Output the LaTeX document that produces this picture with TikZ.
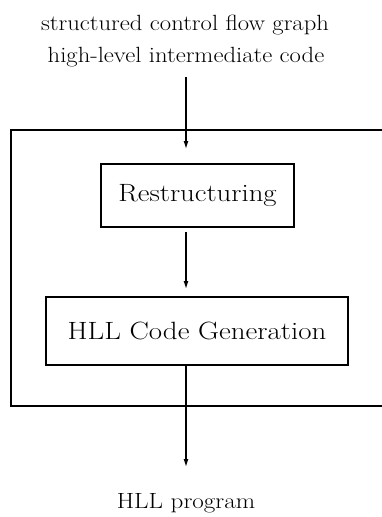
\documentclass[tikz,border=0pt]{standalone}
\usepackage{fontspec}
\usepackage{graphicx}
\usetikzlibrary{arrows.meta}
\tikzset{
  stagebox/.style={draw, line width=1.8pt, inner sep=0pt, minimum height=#1},
  flow/.style={line width=1.2pt, -{Latex[length=8pt,width=5pt]}},
  frame/.style={line width=2pt},
  caption/.style={anchor=base, inner sep=0pt}
}
\begin{document}
\begin{tikzpicture}[x=1pt, y=-1pt]
  \useasboundingbox (0,0) rectangle (382,517);
  % input description
  \node[caption] (in1) at (185,30) {\fontsize{22}{26}\selectfont\scalebox{1.12}[1]{structured control flow graph}};
  \node[caption] (in2) at (186,62) {\fontsize{22}{26}\selectfont\scalebox{1.12}[1]{high-level intermediate code}};
  % surrounding frame, open to the right
  \draw[frame] (384,130) -- (11,130) -- (11,406) -- (384,406);
  % stages
  \node[stagebox=63pt, minimum width=193pt] (restr) at (197.5,195.5)
    {\fontsize{25}{30}\selectfont\scalebox{1.15}[1]{Restructuring}};
  \node[stagebox=68pt, minimum width=302pt] (gen) at (197,331)
    {\fontsize{25}{30}\selectfont\scalebox{1.155}[1]{HLL Code Generation}};
  % output
  \node[caption] (out) at (186,508) {\fontsize{22}{26}\selectfont\scalebox{1.14}[1]{HLL program}};
  % connectors
  \coordinate (a1s) at (186,77);
  \coordinate (a1e) at (186,149);
  \coordinate (a2s) at (186,232);
  \coordinate (a2e) at (186,289);
  \coordinate (a3s) at (186,366);
  \coordinate (a3e) at (186,467);
  \draw[flow] (a1s) -- (a1e);
  \draw[flow] (a2s) -- (a2e);
  \draw[flow] (a3s) -- (a3e);
\end{tikzpicture}
\end{document}
